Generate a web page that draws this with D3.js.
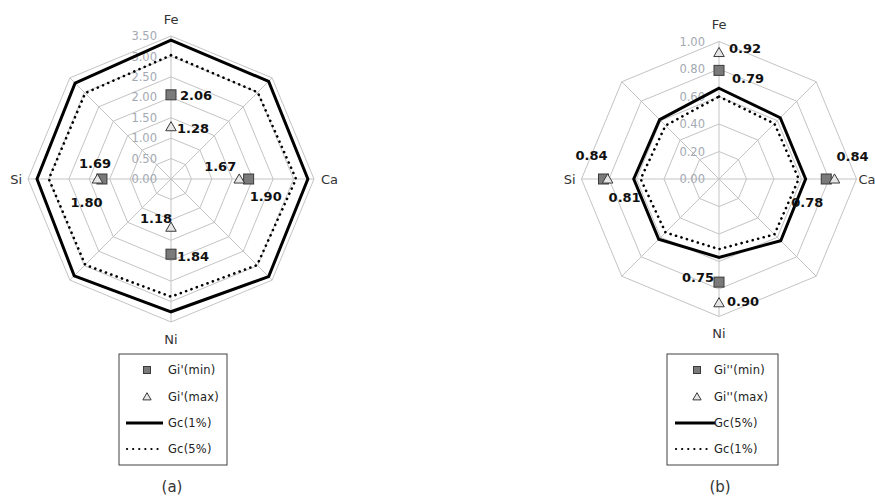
<!DOCTYPE html>
<html><head><meta charset="utf-8">
<script src="https://cdn.jsdelivr.net/npm/d3@7/dist/d3.min.js"></script>
<style>
html,body{margin:0;padding:0;background:#fff;}
svg{display:block;}
</style></head>
<body>
<svg id="chart" width="875" height="499"></svg>
<script>
// ---------- DATA ----------
const categories = ["Fe", "Ca", "Ni", "Si"];          // labelled spokes (every second of 8)
const spokeCount = 8;

// chart (a)
const ticksA = [0, 0.5, 1.0, 1.5, 2.0, 2.5, 3.0, 3.5];
const tickLabelsA = ["0.00", "0.50", "1.00", "1.50", "2.00", "2.50", "3.00", "3.50"];
const giMinA = [2.06, 1.90, 1.84, 1.69];
const giMaxA = [1.28, 1.67, 1.18, 1.80];
const gc1A = [3.40, 3.38, 3.35, 3.38, 3.25, 3.35, 3.28, 3.32];   // solid, 8 spokes
const gc5A = [3.03, 3.00, 3.06, 2.98, 2.88, 2.97, 2.99, 2.97];   // dotted, 8 spokes
const legendA = ["Gi'(min)", "Gi'(max)", "Gc(1%)", "Gc(5%)"];

// chart (b)
const ticksB = [0, 0.2, 0.4, 0.6, 0.8, 1.0];
const tickLabelsB = ["0.00", "0.20", "0.40", "0.60", "0.80", "1.00"];
const giMinB = [0.79, 0.78, 0.75, 0.84];
const giMaxB = [0.92, 0.84, 0.90, 0.81];
const gc5B = [0.66, 0.63, 0.63, 0.635, 0.57, 0.62, 0.62, 0.61];  // solid, 8 spokes
const gc1B = [0.60, 0.57, 0.58, 0.57, 0.51, 0.55, 0.57, 0.55];   // dotted, 8 spokes
const legendB = ["Gi''(min)", "Gi''(max)", "Gc(5%)", "Gc(1%)"];

const captions = ["(a)", "(b)"];

// ---------- LAYOUT (positions / styles) ----------
// label placement relative to marker: [dx, dy, anchor]
const placeMinA = [[9, 0, "start"], [1, 17, "start"], [6, 2, "start"], [-7, -16, "middle"]];
const placeMaxA = [[6, 2, "start"], [-3, -13, "end"], [1, -9, "end"], [-11, 23, "middle"]];
const placeMinB = [[13, 8, "start"], [-3, 23, "end"], [-5, -5, "end"], [-12, -24, "middle"]];
const placeMaxB = [[10, -4, "start"], [18, -23, "middle"], [8, -1, "start"], [17, 18, "middle"]];

const svg = d3.select("#chart");
const GRID = "#c4c4c4";

function drawRadar(cfg) {
  const g = svg.append("g").attr("transform", `translate(${cfg.cx},${cfg.cy})`);
  const r = d3.scaleLinear().domain([0, cfg.max]).range([0, cfg.R]);
  const ang = i => i * 2 * Math.PI / spokeCount;
  const pt = (i, v) => [Math.sin(ang(i)) * r(v), -Math.cos(ang(i)) * r(v)];
  const ring = d3.lineRadial().angle((d, i) => ang(i)).radius(d => r(d)).curve(d3.curveLinearClosed);

  // grid rings
  cfg.ticks.slice(1).forEach(t => {
    g.append("path").attr("d", ring(d3.range(spokeCount).map(() => t)))
      .attr("fill", "none").attr("stroke", GRID).attr("stroke-width", 1);
  });
  // spokes
  d3.range(spokeCount).forEach(i => {
    const p = pt(i, cfg.max);
    g.append("line").attr("x1", 0).attr("y1", 0).attr("x2", p[0]).attr("y2", p[1])
      .attr("stroke", GRID).attr("stroke-width", 1);
  });
  // tick labels
  g.selectAll(".tick").data(cfg.ticks).enter().append("text")
    .attr("x", -14).attr("y", d => -r(d)).attr("dy", "0.36em")
    .attr("text-anchor", "end")
    .attr("font-family", "DejaVu Sans").attr("font-size", 11.5)
    .attr("fill", "#a3a9b2")
    .text((d, i) => cfg.tickLabels[i]);

  // Gc lines
  g.append("path").attr("d", ring(cfg.solid)).attr("fill", "none")
    .attr("stroke", "#000").attr("stroke-width", 3).attr("stroke-linejoin", "miter");
  g.append("path").attr("d", ring(cfg.dotted)).attr("fill", "none")
    .attr("stroke", "#000").attr("stroke-width", 2.6)
    .attr("stroke-dasharray", "0.1 5.6").attr("stroke-linecap", "round");

  // category labels
  const lab = [
    {x: 0, y: -cfg.R - 17, a: "middle"},
    {x: cfg.R + cfg.caGap, y: 0, a: "start"},
    {x: 0, y: cfg.R + 17, a: "middle"},
    {x: -cfg.R - 6, y: 0, a: "end"}
  ];
  categories.forEach((c, k) => {
    g.append("text").attr("x", lab[k].x).attr("y", lab[k].y).attr("dy", "0.36em")
      .attr("text-anchor", lab[k].a).attr("font-family", "DejaVu Sans").attr("font-size", 13)
      .attr("fill", "#333").text(c);
  });

  // markers: squares (min)
  cfg.giMin.forEach((v, k) => {
    const p = pt(k * 2, v);
    g.append("rect").attr("x", p[0] - 5).attr("y", p[1] - 5).attr("width", 10).attr("height", 10)
      .attr("fill", "#7a7a7a").attr("stroke", "#3a3a3a").attr("stroke-width", 1);
  });
  // triangles (max)
  const tri = d3.symbol().type(d3.symbolTriangle).size(48);
  cfg.giMax.forEach((v, k) => {
    const p = pt(k * 2, v);
    g.append("path").attr("d", tri()).attr("transform", `translate(${p[0]},${p[1] + 1})`)
      .attr("fill", "#e6e6e6").attr("stroke", "#3a3a3a").attr("stroke-width", 1);
  });
  // value labels
  function labels(vals, place) {
    vals.forEach((v, k) => {
      const p = pt(k * 2, v);
      g.append("text").attr("x", p[0] + place[k][0]).attr("y", p[1] + place[k][1]).attr("dy", "0.36em")
        .attr("text-anchor", place[k][2]).attr("font-family", "DejaVu Sans").attr("font-weight", "bold")
        .attr("font-size", 13).attr("fill", "#111").text(v.toFixed(2));
    });
  }
  labels(cfg.giMin, cfg.placeMin);
  labels(cfg.giMax, cfg.placeMax);

  // legend
  const L = cfg.legend;
  const lg = svg.append("g");
  lg.append("rect").attr("x", L.x).attr("y", L.y).attr("width", L.w).attr("height", L.h)
    .attr("fill", "#fff").attr("stroke", "#404040").attr("stroke-width", 1);
  const rows = [370, 397, 423, 449];
  lg.append("rect").attr("x", L.mx - 3.5).attr("y", rows[0] - 3.5).attr("width", 7).attr("height", 7)
    .attr("fill", "#7a7a7a").attr("stroke", "#3a3a3a");
  lg.append("path").attr("d", d3.symbol().type(d3.symbolTriangle).size(30)())
    .attr("transform", `translate(${L.mx},${rows[1] + 0.5})`)
    .attr("fill", "#e6e6e6").attr("stroke", "#3a3a3a");
  lg.append("line").attr("x1", L.lx1).attr("x2", L.lx2).attr("y1", rows[2]).attr("y2", rows[2])
    .attr("stroke", "#000").attr("stroke-width", 3);
  lg.append("line").attr("x1", L.lx1 + 1).attr("x2", L.lx2 - 3).attr("y1", rows[3]).attr("y2", rows[3])
    .attr("stroke", "#000").attr("stroke-width", 2.2).attr("stroke-dasharray", "0.1 6")
    .attr("stroke-linecap", "round");
  cfg.legendText.forEach((t, k) => {
    lg.append("text").attr("x", L.tx).attr("y", rows[k]).attr("dy", "0.36em")
      .attr("font-family", "DejaVu Sans").attr("font-size", 11.5).attr("letter-spacing", 0.2)
      .attr("fill", "#222").text(t);
  });
  // caption
  svg.append("text").attr("x", cfg.cx + 1).attr("y", 487).attr("dy", "0.36em").attr("text-anchor", "middle")
    .attr("font-family", "DejaVu Sans").attr("font-size", 15).attr("fill", "#333").text(cfg.caption);
}

drawRadar({
  cx: 171, cy: 179, R: 143, max: 3.5, ticks: ticksA, tickLabels: tickLabelsA, caGap: 7,
  giMin: giMinA, giMax: giMaxA, solid: gc1A, dotted: gc5A,
  placeMin: placeMinA, placeMax: placeMaxA, legendText: legendA, caption: captions[0],
  legend: {x: 119, y: 354, w: 108, h: 111, mx: 147, tx: 168, lx1: 126, lx2: 163}
});
drawRadar({
  cx: 719, cy: 179, R: 137.5, max: 1.0, ticks: ticksB, tickLabels: tickLabelsB, caGap: 2,
  giMin: giMinB, giMax: giMaxB, solid: gc5B, dotted: gc1B,
  placeMin: placeMinB, placeMax: placeMaxB, legendText: legendB, caption: captions[1],
  legend: {x: 667, y: 354, w: 111, h: 111, mx: 697, tx: 714, lx1: 675, lx2: 715}
});
</script>
</body></html>
